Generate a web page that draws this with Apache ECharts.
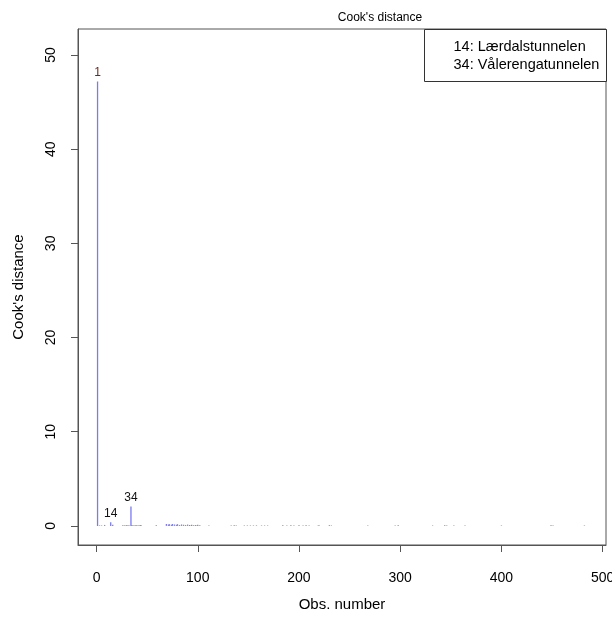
<!DOCTYPE html>
<html>
<head>
<meta charset="utf-8">
<script src="https://cdn.jsdelivr.net/npm/echarts@6/dist/echarts.min.js"></script>
<style>html,body{margin:0;padding:0;background:#fff}#c{width:612px;height:617px}</style>
</head>
<body>
<div id="c"></div>
<script>
// ---- data ----
const nObs = 484;
const obsIds = [1,3,5,8,14,16,26,28,30,32,34,35,37,39,41,43,44,59,
  69,71,72,74,75,77,79,80,82,84,86,88,90,92,94,96,98,100,102,
  111,133,136,138,146,149,152,155,158,163,166,169,184,188,192,195,200,204,207,210,
  219,220,230,232,268,295,298,332,344,346,353,364,400,449,451,482];
const cookValues = [47.19,0.06,0.05,0.1,0.38,0.12,0.08,0.06,0.1,0.08,2.05,0.1,0.08,0.1,0.07,0.09,0.06,0.06,
  0.2,0.15,0.18,0.12,0.2,0.15,0.12,0.18,0.1,0.15,0.12,0.1,0.14,0.1,0.12,0.08,0.1,0.12,0.08,
  0.05,0.05,0.06,0.05,0.05,0.05,0.05,0.05,0.06,0.05,0.05,0.05,0.06,0.05,0.06,0.05,0.06,0.05,0.06,0.05,
  0.05,0.05,0.06,0.05,0.05,0.05,0.06,0.05,0.06,0.05,0.05,0.05,0.05,0.06,0.05,0.05];
const labeledIds = [1, 14, 34];
const legendLines = ['14: Lærdalstunnelen', '34: Vålerengatunnelen'];
const xTicks = [0, 100, 200, 300, 400, 500];
const yTicks = [0, 10, 20, 30, 40, 50];

// ---- derived ranges (R style 4% extension) ----
const xMin = 1 - 0.04 * (nObs - 1), xMax = nObs + 0.04 * (nObs - 1);
const yTop = Math.max(...cookValues) * 1.075;
const yMin = -0.04 * yTop, yMax = yTop * 1.04;

const seriesData = obsIds.map((id, i) => [id, cookValues[i]]);
const FONT = 'Liberation Sans, Arial, sans-serif';
const AX = '#555';

const chart = echarts.init(document.getElementById('c'), null, {renderer: 'canvas'});
chart.setOption({
  animation: false,
  backgroundColor: '#fff',
  title: {
    text: "Cook's distance", left: 375, top: 7, textAlign: 'center',
    textStyle: {fontFamily: FONT, fontSize: 12, fontWeight: 'normal', color: '#000'}
  },
  grid: {left: 78, right: 6, top: 29, bottom: 72, show: true, borderColor: AX, borderWidth: 1,
         backgroundColor: 'transparent', containLabel: false, outerBoundsMode: 'none'},
  xAxis: {
    type: 'value', min: xMin, max: xMax,
    name: 'Obs. number', nameLocation: 'middle', nameGap: 52,
    nameTextStyle: {fontFamily: FONT, fontSize: 15, color: '#000'},
    axisLine: {show: true, onZero: false, lineStyle: {color: AX}},
    axisTick: {show: true, inside: false, length: 7, lineStyle: {color: AX}, customValues: xTicks},
    axisLabel: {customValues: xTicks, fontFamily: FONT, fontSize: 14, color: '#000', margin: 26, showMinLabel: true, showMaxLabel: true},
    splitLine: {show: false}
  },
  yAxis: {
    type: 'value', min: yMin, max: yMax,
    name: "Cook's distance", nameLocation: 'middle', nameGap: 52, nameRotate: 90,
    nameTextStyle: {fontFamily: FONT, fontSize: 15, color: '#000'},
    axisLine: {show: true, onZero: false, lineStyle: {color: AX}},
    axisTick: {show: true, inside: false, length: 7, lineStyle: {color: AX}, customValues: yTicks},
    axisLabel: {customValues: yTicks, rotate: 90, fontFamily: FONT, fontSize: 14, color: '#000', margin: 20},
    splitLine: {show: false}
  },
  series: [{
    type: 'custom',
    data: seriesData,
    clip: true,
    renderItem: function (params, api) {
      const x = api.value(0), y = api.value(1);
      const p0 = api.coord([x, 0]);
      const p1 = api.coord([x, y]);
      const children = [{
        type: 'line',
        shape: {x1: p0[0], y1: p0[1], x2: p1[0], y2: p1[1]},
        style: {stroke: '#7a7af3', lineWidth: 1.3}
      }];
      if (labeledIds.indexOf(x) >= 0) {
        children.push({
          type: 'text',
          style: {
            text: String(x), x: p1[0], y: p1[1] - 3,
            textAlign: 'center', textVerticalAlign: 'bottom',
            font: '12px ' + FONT, fill: x === 1 ? '#6a2a1c' : '#111'
          }
        });
      }
      return {type: 'group', children: children};
    }
  }],
  graphic: [{
    type: 'group', left: 424, top: 29,
    children: [
      {type: 'rect', shape: {x: 0, y: 0, width: 182, height: 52}, style: {fill: '#fff', stroke: '#333', lineWidth: 1}},
      {type: 'text', style: {text: legendLines[0], x: 29, y: 17.5, textVerticalAlign: 'middle', font: '14.5px ' + FONT, fill: '#000'}},
      {type: 'text', style: {text: legendLines[1], x: 29, y: 35, textVerticalAlign: 'middle', font: '14.5px ' + FONT, fill: '#000'}}
    ]
  }]
});
</script>
</body>
</html>
